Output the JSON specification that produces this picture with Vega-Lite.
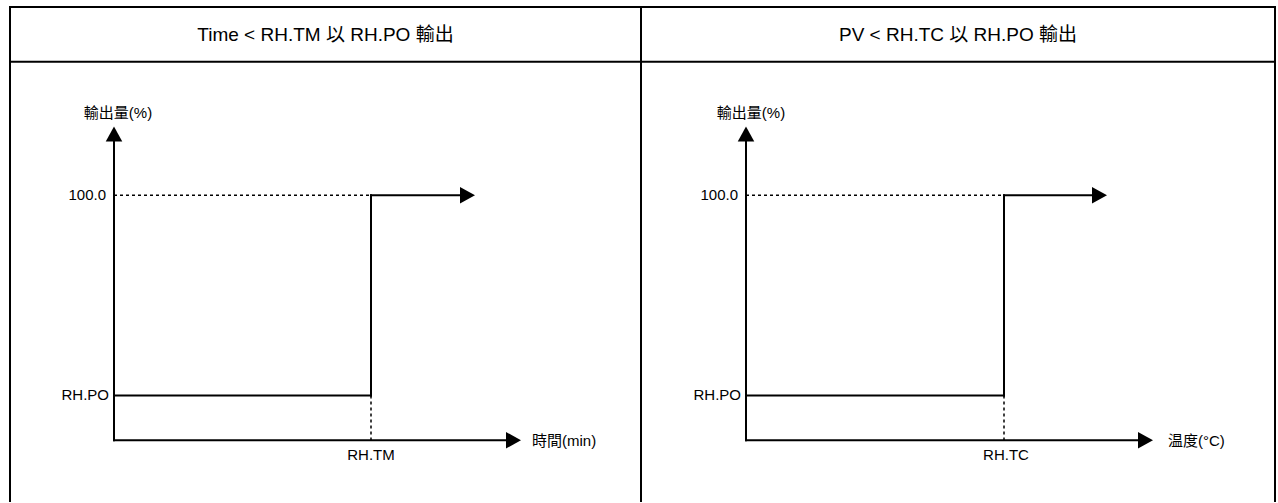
{
  "$schema": "https://vega.github.io/schema/vega-lite/v6.json",
  "autosize": {"type": "fit", "contains": "padding"},
  "width": 1278,
  "height": 503,
  "padding": 0,
  "background": "white",
  "config": {"view": {"stroke": null}},
  "datasets": {
    "segs": [
      {"kind": "border", "x": 10, "y": 7, "x2": 1275, "y2": 7},
      {"kind": "border", "x": 10, "y": 7, "x2": 10, "y2": 503},
      {"kind": "border", "x": 1275, "y": 7, "x2": 1275, "y2": 503},
      {"kind": "border", "x": 641, "y": 7, "x2": 641, "y2": 503},
      {"kind": "border", "x": 10, "y": 62, "x2": 1275, "y2": 62},
      {"kind": "solid", "x": 114, "y": 142, "x2": 114, "y2": 442},
      {"kind": "solid", "x": 114, "y": 442, "x2": 506, "y2": 442},
      {"kind": "solid", "x": 114, "y": 397, "x2": 371, "y2": 397},
      {"kind": "solid", "x": 371, "y": 397, "x2": 371, "y2": 196},
      {"kind": "solid", "x": 371, "y": 196, "x2": 461, "y2": 196},
      {"kind": "dashed", "x": 114, "y": 196, "x2": 371, "y2": 196},
      {"kind": "dashed", "x": 371, "y": 397, "x2": 371, "y2": 442},
      {"kind": "solid", "x": 746, "y": 142, "x2": 746, "y2": 442},
      {"kind": "solid", "x": 746, "y": 442, "x2": 1139, "y2": 442},
      {"kind": "solid", "x": 746, "y": 397, "x2": 1004, "y2": 397},
      {"kind": "solid", "x": 1004, "y": 397, "x2": 1004, "y2": 196},
      {"kind": "solid", "x": 1004, "y": 196, "x2": 1093, "y2": 196},
      {"kind": "dashed", "x": 746, "y": 196, "x2": 1004, "y2": 196},
      {"kind": "dashed", "x": 1004, "y": 397, "x2": 1004, "y2": 442}
    ],
    "arrows": [
      {"dir": "up", "x": 114, "y": 134.5},
      {"dir": "right", "x": 467.5, "y": 196},
      {"dir": "right", "x": 513.5, "y": 442},
      {"dir": "up", "x": 746, "y": 134.5},
      {"dir": "right", "x": 1099.5, "y": 196},
      {"dir": "right", "x": 1145.5, "y": 442}
    ],
    "texts": [
      {"kind": "title", "x": 325.5, "y": 35, "text": "Time < RH.TM 以 RH.PO 輸出"},
      {"kind": "title", "x": 958, "y": 35, "text": "PV < RH.TC 以 RH.PO 輸出"},
      {"kind": "ytick", "x": 106, "y": 196, "text": "100.0"},
      {"kind": "ytick", "x": 109, "y": 397, "text": "RH.PO"},
      {"kind": "ytick", "x": 738, "y": 196, "text": "100.0"},
      {"kind": "ytick", "x": 741, "y": 397, "text": "RH.PO"},
      {"kind": "xtick", "x": 371, "y": 457, "text": "RH.TM"},
      {"kind": "xtick", "x": 1006, "y": 457, "text": "RH.TC"},
      {"kind": "yname", "x": 118, "y": 113, "text": "輸出量(%)"},
      {"kind": "yname", "x": 751, "y": 113, "text": "輸出量(%)"},
      {"kind": "xname", "x": 532, "y": 443, "text": "時間(min)"},
      {"kind": "xname", "x": 1168, "y": 443, "text": "温度(°C)"}
    ]
  },
  "encoding": {
    "x": {"field": "x", "type": "quantitative", "scale": {"domain": [0, 1278], "nice": false, "zero": false}, "axis": null},
    "y": {"field": "y", "type": "quantitative", "scale": {"domain": [0, 503], "nice": false, "zero": false, "reverse": true}, "axis": null}
  },
  "layer": [
    {
      "data": {"name": "segs"},
      "transform": [{"filter": "datum.kind === 'border'"}],
      "mark": {"type": "rule", "color": "#000000", "strokeWidth": 2, "strokeCap": "square"},
      "encoding": {"x2": {"field": "x2"}, "y2": {"field": "y2"}}
    },
    {
      "data": {"name": "segs"},
      "transform": [{"filter": "datum.kind === 'solid'"}],
      "mark": {"type": "rule", "color": "#000000", "strokeWidth": 2, "strokeCap": "square"},
      "encoding": {"x2": {"field": "x2"}, "y2": {"field": "y2"}}
    },
    {
      "data": {"name": "segs"},
      "transform": [{"filter": "datum.kind === 'dashed'"}],
      "mark": {"type": "rule", "color": "#000000", "strokeWidth": 1.5, "strokeDash": [3, 3]},
      "encoding": {"x2": {"field": "x2"}, "y2": {"field": "y2"}}
    },
    {
      "data": {"name": "arrows"},
      "mark": {"type": "point", "filled": true, "color": "#000000", "size": 225, "opacity": 1, "strokeWidth": 0},
      "encoding": {
        "shape": {"field": "dir", "type": "nominal", "scale": {"domain": ["up", "right"], "range": ["M0,-1L1.1,1L-1.1,1Z", "M1,0L-1,1.1L-1,-1.1Z"]}, "legend": null}
      }
    },
    {
      "data": {"name": "texts"},
      "transform": [{"filter": "datum.kind === 'title'"}],
      "mark": {"type": "text", "align": "center", "baseline": "middle", "fontSize": 19, "font": "Liberation Sans, Noto Sans CJK TC, sans-serif", "color": "#000000"},
      "encoding": {"text": {"field": "text"}}
    },
    {
      "data": {"name": "texts"},
      "transform": [{"filter": "datum.kind === 'ytick'"}],
      "mark": {"type": "text", "align": "right", "baseline": "middle", "fontSize": 15, "font": "Liberation Sans, Noto Sans CJK TC, sans-serif", "color": "#000000"},
      "encoding": {"text": {"field": "text"}}
    },
    {
      "data": {"name": "texts"},
      "transform": [{"filter": "datum.kind === 'xtick' || datum.kind === 'yname'"}],
      "mark": {"type": "text", "align": "center", "baseline": "middle", "fontSize": 15, "font": "Liberation Sans, Noto Sans CJK TC, sans-serif", "color": "#000000"},
      "encoding": {"text": {"field": "text"}}
    },
    {
      "data": {"name": "texts"},
      "transform": [{"filter": "datum.kind === 'xname'"}],
      "mark": {"type": "text", "align": "left", "baseline": "middle", "fontSize": 15, "font": "Liberation Sans, Noto Sans CJK TC, sans-serif", "color": "#000000"},
      "encoding": {"text": {"field": "text"}}
    }
  ]
}
